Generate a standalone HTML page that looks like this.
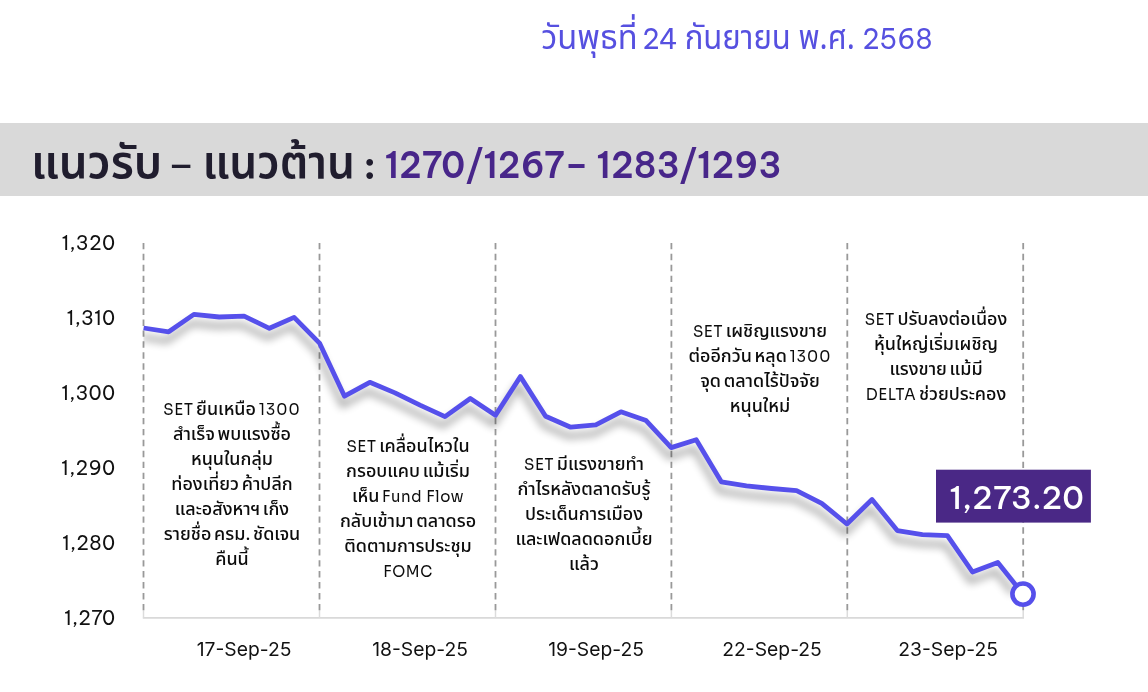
<!DOCTYPE html>
<html lang="th">
<head>
<meta charset="utf-8">
<title>แนวรับ – แนวต้าน</title>
<style>
html,body{margin:0;padding:0;background:#fff;}
body{width:1148px;height:692px;position:relative;overflow:hidden;
  font-family:"Noto Sans Thai","Noto Sans Thai UI","IBM Plex Sans Thai","Anuphan","Sarabun","Liberation Sans","Loma","Noto Sans CJK SC",sans-serif;color:#111;}
.l{font-family:"Be Vietnam Pro","Golos Text","Liberation Sans",sans-serif;}
#band{position:absolute;left:0;top:123.3px;width:1148px;height:72.4px;background:#d9d9d9;}
.th{font-family:"Noto Sans Thai","Noto Sans Thai UI","IBM Plex Sans Thai","Anuphan","Sarabun","Liberation Sans","Loma","Noto Sans CJK SC",sans-serif;}
.la{font-family:"Be Vietnam Pro","Golos Text","Liberation Sans",sans-serif;}
#hdr{position:absolute;left:0;top:0;}
#chart{position:absolute;left:0;top:0;}
.yl{position:absolute;left:30.8px;width:84.8px;text-align:right;font-size:19.5px;letter-spacing:.35px;line-height:24px;height:24px;color:#111;font-family:"Be Vietnam Pro","Golos Text","Liberation Sans",sans-serif;}
.xl{position:absolute;top:637.3px;width:176px;text-align:center;font-size:19.3px;line-height:24px;color:#111;font-family:"Inter","Liberation Sans",sans-serif;}
.note{position:absolute;width:200px;text-align:center;font-size:18.3px;line-height:25px;color:#0c0c0c;font-weight:460;white-space:nowrap;word-spacing:-2px;transform:translateY(.6px) scaleX(.982);transform-origin:50% 50%;}
.note .l,.note .n{font-family:"Sora","Inter","Liberation Sans",sans-serif;font-size:15.3px;letter-spacing:.6px;font-weight:450;word-spacing:0;}
.note .n{letter-spacing:1.05px;}
</style>
</head>
<body>
<div id="band"></div>
<svg id="hdr" width="1148" height="200" viewBox="0 0 1148 200">
  <g fill="#5650e0" font-weight="400">
    <text id="d1" class="th" x="541.3" y="49.2" font-size="34.6" textLength="96.3" lengthAdjust="spacingAndGlyphs">วันพุธที่</text>
    <text id="d2" class="la" x="642.2" y="49.4" font-size="26.8" textLength="35.7" lengthAdjust="spacingAndGlyphs">24</text>
    <text id="d3" class="th" x="684.7" y="49.2" font-size="34.6" textLength="106.2" lengthAdjust="spacingAndGlyphs">กันยายน</text>
    <text id="d4" class="th" x="798.5" y="49.2" font-size="34.6" textLength="56.5" lengthAdjust="spacingAndGlyphs">พ.ศ.</text>
    <text id="d5" class="la" x="862.2" y="49.4" font-size="26.8" textLength="70.3" lengthAdjust="spacingAndGlyphs">2568</text>
  </g>
  <g fill="#201d2e">
    <text id="h1" class="th" x="31" y="178.1" font-size="46.6" font-weight="600" textLength="131.2" lengthAdjust="spacingAndGlyphs">แนวรับ</text>
    <text id="h2" x="170.8" y="174.8" font-family="Liberation Sans,sans-serif" font-size="33" font-weight="700" textLength="20.8" lengthAdjust="spacingAndGlyphs">–</text>
    <text id="h3" class="th" x="202.5" y="178.1" font-size="46.6" font-weight="600" textLength="152.5" lengthAdjust="spacingAndGlyphs">แนวต้าน</text>
    <text id="h4" class="la" x="363.2" y="178.6" font-size="36.5" font-weight="800" textLength="12.9" lengthAdjust="spacingAndGlyphs">:</text>
    <text id="h5" class="la" x="384.7" y="177.9" font-size="35.9" font-weight="600" fill="#48268a" textLength="396.9" lengthAdjust="spacingAndGlyphs">1270/1267– 1283/1293</text>
  </g>
</svg>

<svg id="chart" width="1148" height="692" viewBox="0 0 1148 692">
  <defs>
    <filter id="sh" x="-5%" y="-20%" width="110%" height="150%">
      <feGaussianBlur in="SourceAlpha" stdDeviation="4.3"/>
      <feOffset dx="-2.5" dy="8.5" result="b"/>
      <feComponentTransfer><feFuncA type="linear" slope="0.4"/></feComponentTransfer>
    </filter>
    <clipPath id="plot"><rect x="143.5" y="243" width="880" height="374.5"/></clipPath>
  </defs>
  <!-- axis -->
  <line x1="142.8" y1="617.85" x2="1024" y2="617.85" stroke="#d9d9d9" stroke-width="1.6"/>
  <g stroke="#dcdcdc" stroke-width="1.5"><line x1="143.5" y1="610.2" x2="143.5" y2="617.5"/><line x1="319.5" y1="610.2" x2="319.5" y2="617.5"/><line x1="495.5" y1="610.2" x2="495.5" y2="617.5"/><line x1="671.4" y1="610.2" x2="671.4" y2="617.5"/><line x1="847.3" y1="610.2" x2="847.3" y2="617.5"/><line x1="1023.2" y1="610.2" x2="1023.2" y2="617.5"/></g>
  <!-- dashed separators -->
  <g stroke="#999999" stroke-width="1.8" stroke-dasharray="6.4 4.54" fill="none">
    <line x1="143.5" y1="242.9" x2="143.5" y2="610.2"/>
    <line x1="319.5" y1="242.9" x2="319.5" y2="610.2"/>
    <line x1="495.5" y1="242.9" x2="495.5" y2="610.2"/>
    <line x1="671.4" y1="242.9" x2="671.4" y2="610.2"/>
    <line x1="847.3" y1="242.9" x2="847.3" y2="610.2"/>
    <line x1="1023.2" y1="242.9" x2="1023.2" y2="610.2"/>
  </g>
  <!-- shadow -->
  <g clip-path="url(#plot)"><polyline id="pls" filter="url(#sh)" fill="none" stroke="#000" stroke-width="4.8" stroke-linejoin="round"
   points="143.6,328 168.7,331.8 193.9,314.4 219.2,317 244.1,316.1 269.4,328.3 294.1,317.4 319.5,343.1 344.5,396.2 369.8,382.3 395,392.9 420,405.1 445,416.6 470.3,398.5 495.5,415.3 520.4,376.6 545.6,416.2 570.7,427.2 595.8,424.9 620.9,411.8 646.1,420.6 671.2,447.6 696.2,439.7 721.3,481.8 746.4,485.9 771.5,488.5 796.6,490.6 821.7,503.3 846.9,524 872,499.5 897.3,530.6 922.4,534.6 947.4,535.6 972.5,572 997.8,562.5 1015,584"/></g>
  <polyline fill="none" stroke="#5650eb" stroke-width="4.8" stroke-linejoin="round"
   points="143.6,328 168.7,331.8 193.9,314.4 219.2,317 244.1,316.1 269.4,328.3 294.1,317.4 319.5,343.1 344.5,396.2 369.8,382.3 395,392.9 420,405.1 445,416.6 470.3,398.5 495.5,415.3 520.4,376.6 545.6,416.2 570.7,427.2 595.8,424.9 620.9,411.8 646.1,420.6 671.2,447.6 696.2,439.7 721.3,481.8 746.4,485.9 771.5,488.5 796.6,490.6 821.7,503.3 846.9,524 872,499.5 897.3,530.6 922.4,534.6 947.4,535.6 972.5,572 997.8,562.5 1023,594"/>
  <rect x="936" y="469.7" width="154.9" height="52.9" fill="#4a2886"/>
  <text id="valt" class="la" x="949.4" y="509.1" font-size="30.8" font-weight="550" fill="#fff" textLength="134.5" lengthAdjust="spacingAndGlyphs">1,273.20</text>
  <circle cx="1023" cy="594.1" r="10.6" fill="#fff" stroke="#5650eb" stroke-width="4.6"/>
</svg>

<div class="yl" style="top:230.5px">1,320</div>
<div class="yl" style="top:305.5px">1,310</div>
<div class="yl" style="top:380.5px">1,300</div>
<div class="yl" style="top:455.5px">1,290</div>
<div class="yl" style="top:530.5px">1,280</div>
<div class="yl" style="top:605.5px">1,270</div>

<div class="xl" style="left:156.1px">17-Sep-25</div>
<div class="xl" style="left:332.1px">18-Sep-25</div>
<div class="xl" style="left:508.1px">19-Sep-25</div>
<div class="xl" style="left:684.1px">22-Sep-25</div>
<div class="xl" style="left:860.1px">23-Sep-25</div>

<div class="note" id="n1" style="left:131.5px;top:396px"><span class="l">SET</span> ยืนเหนือ <span class="n">1300</span><br>สำเร็จ พบแรงซื้อ<br>หนุนในกลุ่ม<br>ท่องเที่ยว ค้าปลีก<br>และอสังหาฯ เก็ง<br>รายชื่อ ครม. ชัดเจน<br>คืนนี้</div>
<div class="note" id="n2" style="left:307.5px;top:433px"><span class="l">SET</span> เคลื่อนไหวใน<br>กรอบแคบ แม้เริ่ม<br>เห็น <span class="l">Fund Flow</span><br>กลับเข้ามา ตลาดรอ<br>ติดตามการประชุม<br><span class="l">FOMC</span></div>
<div class="note" id="n3" style="left:483.5px;top:451px"><span class="l">SET</span> มีแรงขายทำ<br>กำไรหลังตลาดรับรู้<br>ประเด็นการเมือง<br>และเฟดลดดอกเบี้ย<br>แล้ว</div>
<div class="note" id="n4" style="left:659.5px;top:318px"><span class="l">SET</span> เผชิญแรงขาย<br>ต่ออีกวัน หลุด <span class="n">1300</span><br>จุด ตลาดไร้ปัจจัย<br>หนุนใหม่</div>
<div class="note" id="n5" style="left:835.5px;top:306px"><span class="l">SET</span> ปรับลงต่อเนื่อง<br>หุ้นใหญ่เริ่มเผชิญ<br>แรงขาย แม้มี<br><span class="l">DELTA</span> ช่วยประคอง</div>

</body>
</html>
